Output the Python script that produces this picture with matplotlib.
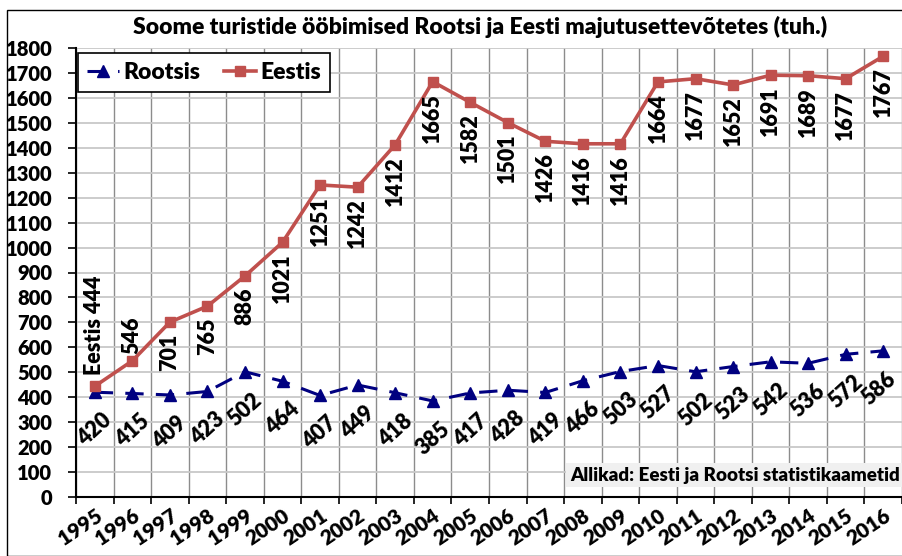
import numpy as np
import matplotlib.pyplot as plt
from matplotlib.patches import Rectangle

plt.rcParams['font.family'] = ['Lato', 'DejaVu Sans']
plt.rcParams['font.weight'] = 'bold'

years = [str(y) for y in range(1995, 2017)]
eestis = [444, 546, 701, 765, 886, 1021, 1251, 1242, 1412, 1665, 1582,
          1501, 1426, 1416, 1416, 1664, 1677, 1652, 1691, 1689, 1677, 1767]
rootsis = [420, 415, 409, 423, 502, 464, 407, 449, 418, 385, 417,
           428, 419, 466, 503, 527, 502, 523, 542, 536, 572, 586]

red = '#c0504d'
blue = '#000080'
lab_fs = 15.5

fig = plt.figure(figsize=(9.02, 5.56), dpi=100)
ax = fig.add_axes([76/902, 1-497/556, 1-76/902, 449/556])

x = np.arange(len(years))
ax.plot(x, rootsis, color=blue, lw=2.2, ls=(0, (6, 4)), marker='^', ms=8,
        label='Rootsis', zorder=3)
ax.plot(x, eestis, color=red, lw=2.6, marker='s', ms=7, label='Eestis', zorder=3)

ax.set_xlim(-0.5, len(years) - 0.5)
ax.set_ylim(0, 1800)
ax.set_yticks(range(0, 1801, 100))
ax.set_xticks(x)
ax.set_xticklabels(years, rotation=34, ha='right', rotation_mode='anchor')
ax.set_xticks(np.arange(-0.5, len(years)), minor=True)
ax.tick_params(axis='x', which='major', length=0, pad=6, labelsize=15)
ax.tick_params(axis='x', which='minor', length=5, width=1.2, direction='out')
ax.tick_params(axis='y', length=6, width=1.2, labelsize=14.5, pad=11)
for lab in ax.get_xticklabels() + ax.get_yticklabels():
    lab.set_fontweight('heavy')

ax.grid(axis='y', which='major', color='#c8c8c8', lw=1.3)
ax.grid(axis='x', which='minor', color='#8c8c8c', lw=1)
ax.set_axisbelow(True)
for s in ['top', 'right']:
    ax.spines[s].set_visible(False)
ax.spines['left'].set_linewidth(1.5)
ax.spines['bottom'].set_linewidth(1.5)

# Eestis labels (vertical)
for i, v in enumerate(eestis):
    if i == 0:
        ax.annotate('Eestis 444', (i, v), xytext=(0, 8), textcoords='offset points',
                    rotation=90, ha='center', va='bottom', fontsize=lab_fs, fontweight='heavy')
    elif i == 1:
        ax.annotate(str(v), (i, v), xytext=(0, 5), textcoords='offset points',
                    rotation=90, ha='center', va='bottom', fontsize=lab_fs, fontweight='heavy')
    else:
        ax.annotate(str(v), (i, v), xytext=(0, -8), textcoords='offset points',
                    rotation=90, ha='center', va='top', fontsize=lab_fs, fontweight='heavy')

# Rootsis labels (diagonal), last one nudged left so it stays inside
for i, v in enumerate(rootsis):
    dx = -3 if i == len(rootsis) - 1 else 0
    ax.annotate(str(v), (i, v), xytext=(dx, -27), textcoords='offset points',
                rotation=42, ha='center', va='center', fontsize=lab_fs, fontweight='heavy',
                rotation_mode='anchor')

leg = ax.legend(loc='upper left', bbox_to_anchor=(0.0024, 0.989), borderaxespad=0,
                ncol=2, fontsize=16.5, frameon=True, fancybox=False, edgecolor='black',
                borderpad=0.4, handlelength=1.4, columnspacing=1.0, handletextpad=0.2,
                framealpha=1)
leg.get_frame().set_linewidth(1.2)
for t in leg.get_texts():
    t.set_fontweight('heavy')

fig.text(480/902, 1-27/556, 'Soome turistide ööbimised Rootsi ja Eesti majutusettevõtetes (tuh.)',
         ha='center', va='center', fontsize=16.5, fontweight='heavy')

ax.text(0.997, 0.03, 'Allikad: Eesti ja Rootsi statistikaametid', transform=ax.transAxes,
        ha='right', va='bottom', fontsize=13.5, fontweight='heavy',
        bbox=dict(boxstyle='square,pad=0.2', facecolor='#f0f0f0', edgecolor='none'))

fig.patches.append(Rectangle((7/902, 0), 1, 1-10/556, transform=fig.transFigure,
                             fill=False, edgecolor='black', lw=1))

fig.savefig('out.png', dpi=100)
